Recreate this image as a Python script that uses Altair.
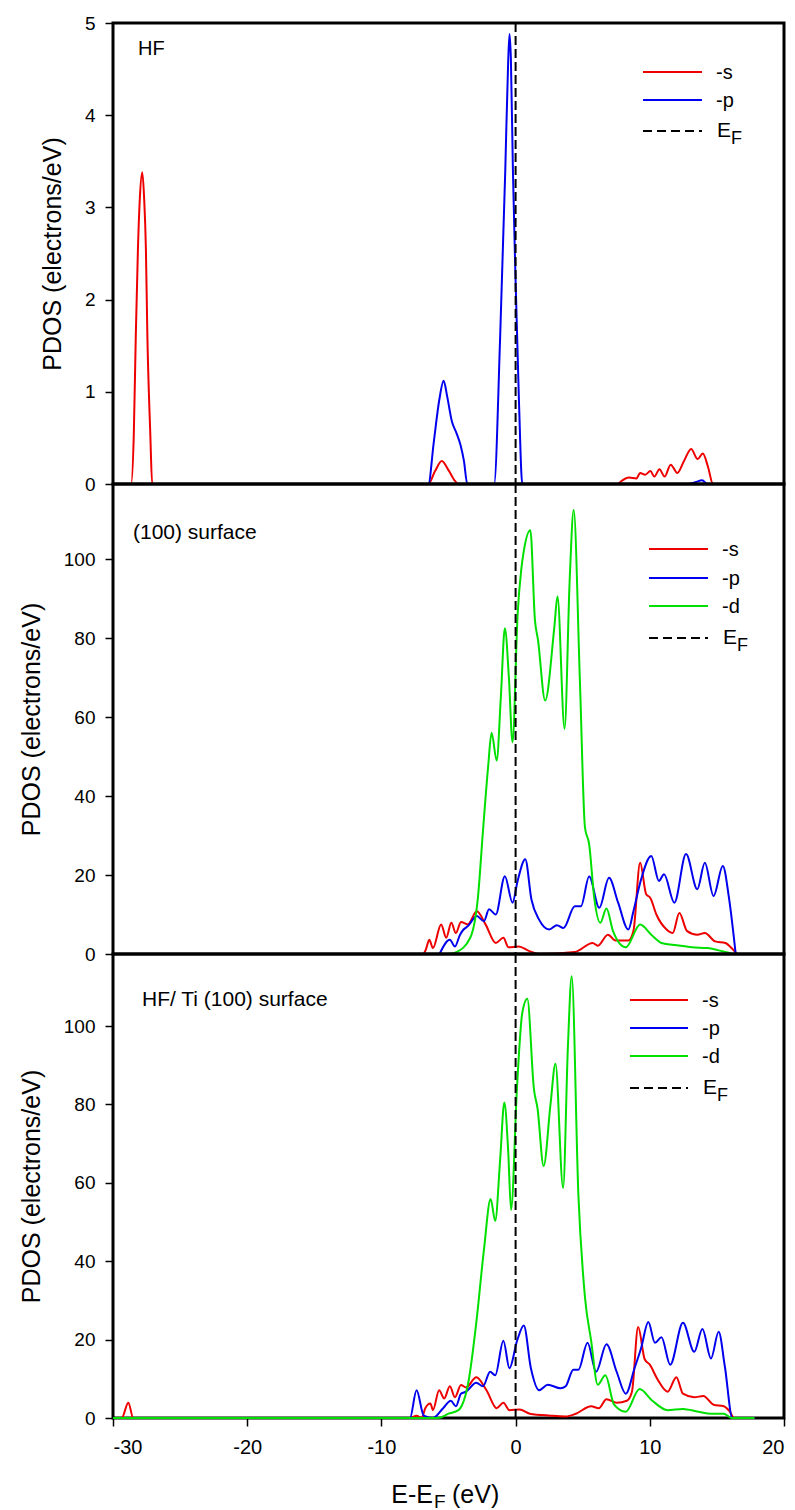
import altair as alt
import pandas as pd

# ---------------- data ----------------
# Panel 1: HF
HF_S_X = [-30, -28.65, -28.45, -28.3, -28.14, -28.0, -27.82, -27.68, -27.55, -27.44, -27.22, -27.08,
          -6.5, -6.0, -5.5, -5.0, -4.5, -4.3,
          7.6, 7.87, 8.44, 9.01, 9.28, 9.66, 10.04, 10.34, 10.72, 11.1, 11.56, 12.05, 12.55, 13.08, 13.57,
          13.95, 14.33, 14.71, 20]
HF_S_Y = [0, 0, 0.54, 1.62, 2.56, 3.1, 3.38, 3.1, 2.56, 1.62, 0.54, 0,
          0, 0.14, 0.25, 0.15, 0.03, 0,
          0, 0.03, 0.07, 0.06, 0.12, 0.10, 0.14, 0.08, 0.16, 0.08, 0.21, 0.12, 0.25, 0.38, 0.27,
          0.33, 0.19, 0, 0]
HF_P_X = [-30, -6.5, -6.1, -5.7, -5.36, -5.1, -4.75, -4.4, -4.1, -3.85, -3.6,
          -1.6, -1.15, -0.77, -0.55, -0.45, -0.35, -0.2, 0.0, 0.25, 0.5,
          12.8, 13.4, 13.9, 14.3, 20]
HF_P_Y = [0, 0, 0.45, 0.9, 1.12, 0.95, 0.68, 0.55, 0.42, 0.25, 0,
          0, 1.6, 3.4, 4.6, 4.88, 4.6, 3.4, 2.2, 0.9, 0,
          0, 0.02, 0.04, 0, 0]

# Panel 2: Ti (100) surface
TI_S_X = [-6.85, -6.69, -6.43, -6.16, -5.55, -5.17, -4.79, -4.45, -4.07, -3.57, -2.89, -2.24, -1.48,
          -0.91, -0.53, 0.23, 0.99, 1.75, 4.41, 5.74, 6.12, 6.88, 7.45, 8.40, 8.78, 9.28, 9.73,
          10.04, 10.49, 11.25, 11.71, 12.2, 12.78, 13.54, 14.1, 14.87, 15.63, 16.2, 16.5]
TI_S_Y = [0, 1.1, 3.6, 1.5, 7.5, 4.1, 7.9, 5.3, 8.1, 7.5, 10.8, 7.5, 2.8,
          4.1, 1.7, 1.9, 0.8, 0, 0.5, 2.8, 2.1, 4.9, 3.4, 3.4, 5.8, 23.1, 15.1,
          14.2, 10, 6.2, 5.3, 10.4, 5.8, 4.9, 5.3, 3.2, 2.8, 1.1, 0]
TI_P_X = [-5.67, -4.9, -4.52, -4.14, -3.88, -3.57, -2.89, -2.36, -1.98, -1.48, -0.80, -0.23, 0.15,
          0.72, 1.18, 1.75, 2.51, 3.08, 3.57, 4.41, 4.87, 5.48, 6.24, 6.96, 7.64, 8.40, 8.78, 9.28,
          10.11, 10.68, 11.06, 11.83, 12.7, 13.54, 14.1, 14.75, 15.44, 15.9, 16.4]
TI_P_Y = [0, 3.6, 1.9, 4.9, 6.2, 7.0, 9.6, 8.3, 11.3, 10, 19.7, 13, 18.5,
          24, 13.8, 8.7, 6.2, 7.3, 6.6, 12.1, 12.1, 19.6, 11.7, 19.3, 13, 6.2, 10.8, 18,
          24.8, 18.5, 20.2, 13, 25.3, 16.4, 23.1, 14.7, 22.3, 14.2, 0]
TI_D_X = [-5.0, -4.4, -3.38, -2.81, -2.43, -2.05, -1.79, -1.41, -1.1, -0.80, -0.5, -0.23, 0.15,
          0.42, 0.61, 1.10, 1.44, 1.67, 2.2, 2.89, 3.12, 3.65, 4.03, 4.33, 4.79, 5.17, 5.48, 5.86,
          6.31, 6.77, 7.26, 8.21, 9.28, 10.11, 10.87, 12.0, 13.15, 14.3, 15.4, 16.2]
TI_D_Y = [0, 0.5, 4.1, 14.2, 31.2, 47.3, 56, 49, 65, 82.5, 70, 53.6, 86,
          97.3, 102, 107.3, 84.6, 79.5, 64.2, 82.9, 90.5, 57, 94.7, 112.4, 69.3, 32, 27.8, 14.2,
          7.9, 11.5, 5.8, 1.7, 7.5, 4.9, 2.8, 2.2, 1.7, 1.5, 0.7, 0]

# Panel 3: HF / Ti (100) surface
AD_S_X = [-30, -29.35, -28.86, -28.49, -7.9, -7.38, -7.0, -6.73, -6.35, -6.16, -5.7, -5.32, -4.9,
          -4.52, -4.07, -3.69, -2.93, -2.17, -1.41, -0.91, -0.46, 0.3, 1.06, 2.59, 3.73, 4.49, 5.63,
          6.2, 6.77, 7.53, 8.29, 8.67, 9.13, 9.62, 10.0, 10.57, 11.33, 11.98, 12.47, 13.31, 13.99,
          14.75, 15.51, 15.97, 16.27, 17.8]
AD_S_Y = [0, 0, 3.9, 0, 0, 0.6, 0, 2.5, 3.7, 2.0, 7.1, 5.0, 8.1,
          5.3, 8.4, 7.8, 10.4, 7.1, 2.5, 3.9, 2.0, 2.2, 1.1, 0.6, 0.4, 1.1, 3.0,
          2.5, 4.8, 3.9, 4.4, 6.7, 23.2, 15.0, 13.6, 9.9, 6.7, 10.4, 6.2, 5.3, 5.6,
          3.4, 3.0, 1.6, 0, 0]
AD_P_X = [-30, -7.87, -7.38, -6.84, -6.16, -5.4, -4.83, -4.45, -4.07, -3.69, -2.93, -2.43, -1.9,
          -1.52, -0.91, -0.46, 0.11, 0.61, 1.14, 1.75, 2.4, 3.35, 3.73, 4.3, 4.68, 5.36, 6.0, 6.77,
          7.53, 8.21, 8.86, 9.35, 9.89, 10.38, 10.87, 11.52, 12.47, 13.31, 13.92, 14.56, 15.13,
          15.59, 16.16, 17.8]
AD_P_Y = [0, 0, 7.1, 0.6, 0, 2.5, 4.4, 3.0, 6.2, 6.7, 9.0, 8.1, 11.8,
          10.9, 19.7, 12.7, 19.7, 23.6, 12.7, 7.1, 8.5, 7.6, 8.1, 12.3, 12.3, 19.2, 11.8, 18.8,
          11.8, 6.2, 12.7, 17.8, 24.5, 19.2, 20.6, 13.6, 24.3, 16.9, 22.7, 15.2, 22.0,
          13.2, 0, 0]
AD_D_X = [-30, -5.78, -5.0, -4.26, -3.5, -2.93, -2.36, -1.86, -1.52, -1.15, -0.84, -0.55, -0.34,
          0.11, 0.49, 0.87, 1.37, 1.63, 2.09, 2.6, 2.97, 3.54, 3.9, 4.18, 4.68, 5.17, 5.63, 6.12,
          6.69, 7.34, 8.21, 9.24, 10.19, 11.33, 12.47, 13.61, 14.56, 15.5, 16.1, 17.8]
AD_D_Y = [0, 0, 1.1, 2.0, 9.5, 24.3, 42.9, 55.9, 50.3, 66, 80.5, 68, 53.1,
          84.7, 103.2, 107, 83.8, 79.1, 64.3, 80, 90.4, 58.7, 95, 112.7, 56.8, 30.8, 19.7, 8.5,
          10.9, 3.4, 1.6, 7.4, 4.4, 2.0, 2.3, 1.6, 1.1, 1.1, 0, 0]

X_TICKS = [-30, -20, -10, 0, 10, 20]
TOP_TICKS = [0, 1, 2, 3, 4, 5]
BIG_TICKS = [0, 20, 40, 60, 80, 100]
LABELS = ["HF", "(100) surface", "HF/ Ti (100) surface"]

# ---------------- styling ----------------
W = 671
FONT = "Liberation Sans, Arial, sans-serif"
COL = {"s": "#ee0000", "p": "#0000ee", "d": "#00e000"}
ONE = pd.DataFrame({"k": [0]})
X_SCALE = alt.Scale(domain=[-30, 20], nice=False, zero=False)


def line_layer(xs, ys, orb, yscale, yaxis, xaxis):
    df = pd.DataFrame({"E": xs, "PDOS": ys})
    return alt.Chart(df).mark_line(color=COL[orb], strokeWidth=2, interpolate="monotone").encode(
        x=alt.X("E:Q", scale=X_SCALE, axis=xaxis),
        y=alt.Y("PDOS:Q", scale=yscale, axis=yaxis),
    )


def text_layer(txt, x, y, size, align="left"):
    return alt.Chart(ONE).mark_text(align=align, baseline="alphabetic", fontSize=size,
                                    font=FONT, color="black").encode(
        x=alt.value(x), y=alt.value(y), text=alt.value(txt))


def legend_layers(items, x1, x2, tx, ys):
    out = []
    for (name, col, dash), yy in zip(items, ys):
        kw = {"strokeDash": [9, 5]} if dash else {}
        out.append(alt.Chart(ONE).mark_rule(color=col, strokeWidth=2.2, **kw).encode(
            x=alt.value(x1), x2=alt.value(x2), y=alt.value(yy)))
        if name == "EF":
            out.append(text_layer("E", tx + 1, yy + 6, 21))
            out.append(text_layer("F", tx + 15, yy + 13, 18))
        else:
            out.append(text_layer(name, tx, yy + 7, 20))
    return out


def yaxis(values):
    return alt.Axis(values=values, title="PDOS (electrons/eV)", grid=False, domain=False,
                    tickSize=8, tickWidth=1.5, tickColor="black", labelColor="black",
                    labelFontSize=19, labelFont=FONT, labelPadding=10,
                    titleFont=FONT, titleFontSize=25, titleFontWeight="normal",
                    titleColor="black", titlePadding=19)


def frame(h):
    return alt.Chart(ONE).mark_rect(fillOpacity=0, stroke="black", strokeWidth=3).encode(
        x=alt.value(0), x2=alt.value(W), y=alt.value(0), y2=alt.value(h))


def ef_rule(xaxis=None):
    return alt.Chart(pd.DataFrame({"E": [0]})).mark_rule(
        color="black", strokeWidth=2, strokeDash=[9, 4]).encode(
        x=alt.X("E:Q", scale=X_SCALE, axis=xaxis))


# ---- top panel ----
H1 = 461
ys1 = alt.Scale(domain=[0, 5], nice=False, zero=True)
top = alt.layer(
    line_layer(HF_S_X, HF_S_Y, "s", ys1, yaxis(TOP_TICKS), None),
    line_layer(HF_P_X, HF_P_Y, "p", ys1, yaxis(TOP_TICKS), None),
    ef_rule(),
    frame(H1),
    text_layer(LABELS[0], 25, 32, 20),
    *legend_layers([("-s", COL["s"], False), ("-p", COL["p"], False), ("EF", "black", True)],
                   530, 589, 603, [49, 77, 108]),
).properties(width=W, height=H1)

# ---- middle panel ----
H2 = 470
ys2 = alt.Scale(domain=[0, 119], nice=False, zero=True)
mid = alt.layer(
    line_layer(TI_S_X, TI_S_Y, "s", ys2, yaxis(BIG_TICKS), None),
    line_layer(TI_P_X, TI_P_Y, "p", ys2, yaxis(BIG_TICKS), None),
    line_layer(TI_D_X, TI_D_Y, "d", ys2, yaxis(BIG_TICKS), None),
    ef_rule(),
    frame(H2),
    text_layer(LABELS[1], 20, 55, 21),
    *legend_layers([("-s", COL["s"], False), ("-p", COL["p"], False), ("-d", COL["d"], False),
                    ("EF", "black", True)], 536, 595, 609, [65, 94, 122, 154]),
).properties(width=W, height=H2)

# ---- bottom panel ----
H3 = 464
ys3 = alt.Scale(domain=[0, 118.4], nice=False, zero=True)
xax = alt.Axis(values=X_TICKS, title=None, grid=False, domain=False, tickSize=8, tickWidth=1.5,
               tickColor="black", labelColor="black", labelFontSize=20, labelFont=FONT,
               labelPadding=11, labelExpr="'' + datum.value")
bot = alt.layer(
    frame(H3),
    line_layer(AD_S_X, AD_S_Y, "s", ys3, yaxis(BIG_TICKS), xax),
    line_layer(AD_P_X, AD_P_Y, "p", ys3, yaxis(BIG_TICKS), xax),
    line_layer(AD_D_X, AD_D_Y, "d", ys3, yaxis(BIG_TICKS), xax),
    ef_rule(xax),
    text_layer(LABELS[2], 29, 52, 21),
    *legend_layers([("-s", COL["s"], False), ("-p", COL["p"], False), ("-d", COL["d"], False),
                    ("EF", "black", True)], 517, 575, 589, [46, 74, 102, 134]),
    # x-axis title  E-E_F (eV)
    text_layer("E-E", 320, 549, 25, align="right"),
    text_layer("F", 321, 554, 19),
    text_layer("(eV)", 339, 549, 25),
).properties(width=W, height=H3)

chart = alt.vconcat(top, mid, bot, spacing=0, bounds="flush").configure_view(
    strokeWidth=0).properties(padding={"left": 19, "top": 14, "right": 5, "bottom": 2})

chart.save("out.html", embed_options={"renderer": "svg", "actions": False})
